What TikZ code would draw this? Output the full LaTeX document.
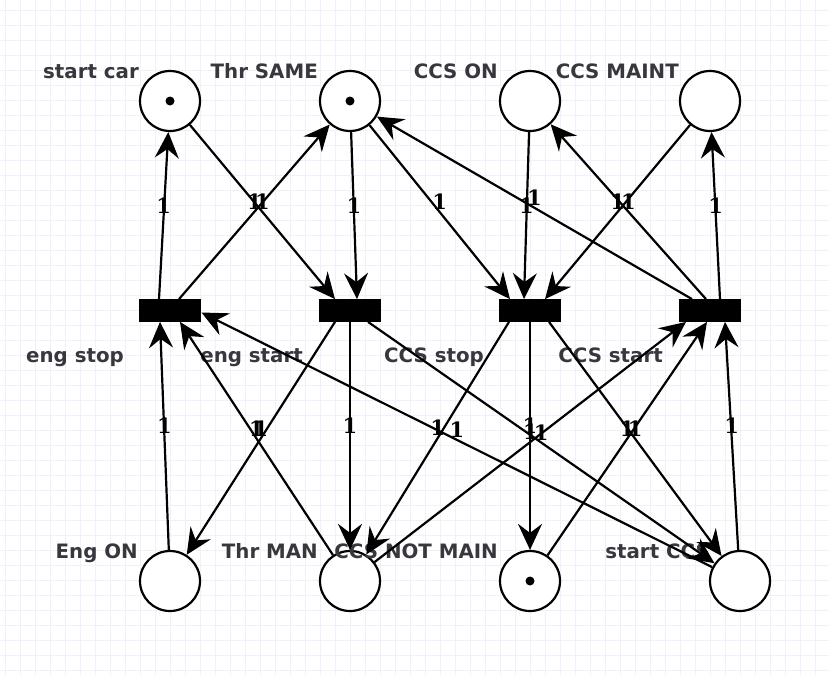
\documentclass[tikz,border=0pt]{standalone}
\usepackage{fontspec}
\setmainfont{DejaVu Sans}
\newfontfamily\lblfont{DejaVu Serif}
\usetikzlibrary{arrows.meta}
\definecolor{gridc}{RGB}{240,240,251}
\definecolor{txt}{RGB}{55,55,62}
\tikzset{
  place/.style={circle, draw, line width=2.2pt, fill=white, minimum size=60pt, inner sep=0pt},
  trans/.style={rectangle, fill=black, minimum width=62.5pt, minimum height=22.4pt, inner sep=0pt},
  token/.style={circle, fill=black, minimum size=9pt, inner sep=0pt},
  lbl/.style={anchor=base east, inner sep=0pt, text=txt, font=\fontsize{19.8}{24}\selectfont\bfseries},
  edgeln/.style={draw=black, line width=2.2pt, -{Stealth[length=26pt, width=24pt, inset=9pt]}},
  w/.style={midway, yshift=10pt, inner sep=0pt, font=\lblfont\fontsize{21}{24}\selectfont\bfseries}
}
\begin{document}
\begin{tikzpicture}[x=1pt,y=-1pt]
\useasboundingbox (0,0) rectangle (829,675);
\fill[white] (0,0) rectangle (829,675);
\foreach \x in {5,20,...,825} \draw[gridc, line width=1pt] (\x,0) -- (\x,675);
\foreach \y in {10,25,...,670} \draw[gridc, line width=1pt] (0,\y) -- (829,\y);

% places
\node[place] (p1) at (170,101) {};
\node[place] (p2) at (350,101) {};
\node[place] (p3) at (530,101) {};
\node[place] (p4) at (710,101) {};
\node[place] (q1) at (170,581) {};
\node[place] (q2) at (350,581) {};
\node[place] (q3) at (530,581) {};
\node[place] (q4) at (740,581) {};
\node[token] (k1) at (p1) {};
\node[token] (k2) at (p2) {};
\node[token] (k3) at (q3) {};

% transitions
\node[trans] (t1) at (170,310.5) {};
\node[trans] (t2) at (350,310.5) {};
\node[trans] (t3) at (530,310.5) {};
\node[trans] (t4) at (710,310.5) {};

% labels
\node[lbl] (l1) at (139,78) {start car};
\node[lbl] (l2) at (318,78) {Thr SAME};
\node[lbl] (l3) at (498,78) {CCS ON};
\node[lbl] (l4) at (679,78) {CCS MAINT};
\node[lbl] (l5) at (124,362) {eng stop};
\node[lbl] (l6) at (303,362) {eng start};
\node[lbl] (l7) at (484,362) {CCS stop};
\node[lbl] (l8) at (663,362) {CCS start};
\node[lbl] (l9) at (138,558) {Eng ON};
\node[lbl] (l10) at (318,558) {Thr MAN};
\node[lbl] (l11) at (498,558) {CCS NOT MAIN};
\node[lbl] (l12) at (710,558) {start CCS};

% upper arcs
\path[edgeln] ([xshift=-11]t1.north) -- (p1) node[w]{1};
\path[edgeln] (p1) -- ([xshift=-15]t2.north) node[w]{1};
\path[edgeln] ([xshift=9]t1.north) -- (p2) node[w]{1};
\path[edgeln] (p2) -- ([xshift=7]t2.north) node[w]{1};
\path[edgeln] (p2) -- ([xshift=-20]t3.north) node[w]{1};
\path[edgeln] ([xshift=-18]t4.north) -- (p2) node[w]{1};
\path[edgeln] (p3) -- ([xshift=-6]t3.north) node[w]{1};
\path[edgeln] ([xshift=-4]t4.north) -- (p3) node[w]{1};
\path[edgeln] (p4) -- ([xshift=15]t3.north) node[w]{1};
\path[edgeln] ([xshift=10]t4.north) -- (p4) node[w]{1};

% lower arcs
\path[edgeln] (q1) -- ([xshift=-10]t1.south) node[w]{1};
\path[edgeln] (q2) -- ([xshift=10]t1.south) node[w]{1};
\path[edgeln] (q4) -- ([yshift=-2]t1.east) node[w]{1};
\path[edgeln] ([xshift=-15]t2.south) -- (q1) node[w]{1};
\path[edgeln] (t2.south) -- (q2) node[w]{1};
\path[edgeln] ([xshift=18]t2.south) -- (q4) node[w]{1};
\path[edgeln] ([xshift=-21]t3.south) -- (q2) node[w]{1};
\path[edgeln] (t3.south) -- (q3) node[w]{1};
\path[edgeln] ([xshift=19]t3.south) -- (q4) node[w]{1};
\path[edgeln] (q2) -- ([xshift=-24]t4.south) node[w]{1};
\path[edgeln] (q3) -- ([xshift=-3]t4.south) node[w]{1};
\path[edgeln] (q4) -- ([xshift=15]t4.south) node[w]{1};
\end{tikzpicture}
\end{document}
